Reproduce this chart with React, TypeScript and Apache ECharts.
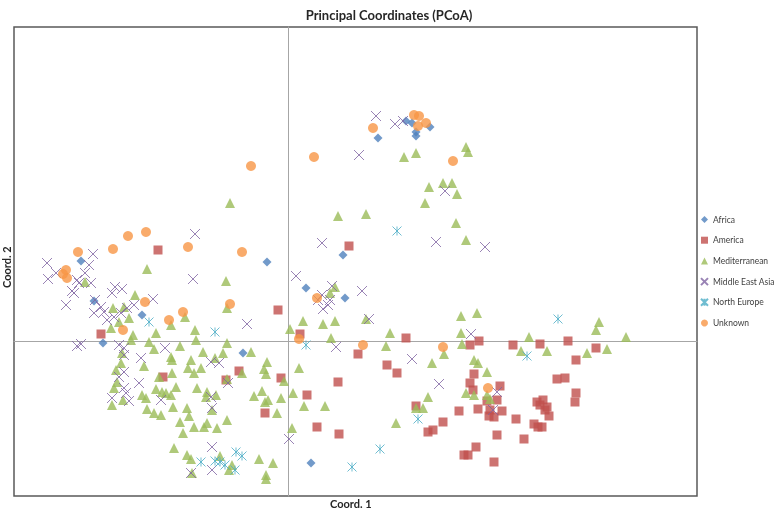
import React, { useEffect, useRef } from 'react';
import * as echarts from 'echarts';

const titleText = 'Principal Coordinates (PCoA)';
const xAxisName = 'Coord. 1';
const yAxisName = 'Coord. 2';
const seriesNames = ['Africa', 'America', 'Mediterranean', 'Middle East Asia', 'North Europe', 'Unknown'];

const africa = [
  [-207, 80], [-194, 40], [-185, -2], [-146, 26], [-21, 79], [-45, -12], [23, -122], [18, 53],
  [57, 43], [55, 86], [90, 203], [124, 218], [128, 209], [128, 205], [142, 214], [118, 220],
];

const america = [
  [-130, 91], [-187, 7], [-125, -36], [-10, 31], [12, 7], [61, 95], [-49, -30], [-62, -39],
  [-7, -37], [50, -41], [19, -54], [-23, -72], [29, -86], [51, -93], [70, -13], [99, -24],
  [109, -32], [118, 3], [182, -4], [191, 0], [225, -4], [252, -3], [280, 0], [288, -19],
  [308, -7], [269, -38], [277, -37], [288, -52], [287, -61], [186, -33], [182, -42], [185, -49],
  [212, -45], [249, -61], [255, -59], [259, -66], [252, -64], [257, -69], [209, -59], [199, -60],
  [190, -68], [202, -69], [214, -70], [206, -76], [201, -75], [261, -75], [171, -70], [228, -78],
  [246, -83], [250, -86], [254, -86], [155, -81], [140, -91], [145, -89], [209, -94], [236, -98],
  [188, -106], [176, -114], [180, -114], [206, -121], [128, -65],
];

const mediterranean = [
  [-203, 59], [-141, 72], [-153, 46], [-175, 33], [-164, 34], [-159, 23], [-169, 19], [-177, 13],
  [-155, 6], [-132, 8], [-117, 16], [-103, 24], [-93, 11], [-92, 1], [-157, 1], [-139, -1],
  [-134, -8], [-108, -5], [-85, -11], [-117, -16], [-116, -19], [-166, -12], [-167, -22], [-144, -25],
  [-97, -19], [-100, -27], [-87, -27], [-94, -32], [-116, -32], [-129, -36], [-172, -29], [-171, -41],
  [-174, -47], [-165, -59], [-176, -64], [-132, -48], [-126, -51], [-112, -46], [-117, -54], [-122, -52],
  [-146, -54], [-142, -57], [-91, -47], [-81, -51], [-82, -56], [-115, -66], [-141, -68], [-134, -72],
  [-127, -74], [-101, -67], [-99, -75], [-108, -81], [-94, -86], [-84, -86], [-81, -82], [-105, -92],
  [-114, -107], [-101, -114], [-97, -118], [-96, -132], [-61, -2], [-65, -12], [-37, -11], [-73, -17],
  [-21, -21], [-24, -28], [-22, -33], [-46, -32], [-61, -38], [-4, -40], [11, -27], [43, 3],
  [102, 8], [98, -5], [-72, -54], [-26, -50], [-34, -55], [-7, -57], [-20, -59], [-23, -61],
  [5, -52], [16, -65], [37, -65], [-11, -72], [-76, -69], [-61, -79], [-71, -87], [4, -87],
  [108, -82], [-29, -118], [-15, -122], [-22, -134], [-22, -138], [-56, -124], [-59, -129], [-68, -115],
  [-58, 138], [-62, 60], [-61, 33], [2, 12], [15, 20], [35, 17], [47, 20], [42, 48],
  [47, 54], [78, 22], [173, 25], [189, 28], [116, 184], [128, 188], [178, 194], [180, 189],
  [141, 154], [155, 158], [164, 158], [169, 147], [137, 138], [50, 125], [78, 127], [168, 118],
  [178, 101], [173, 8], [174, -3], [156, -13], [144, -22], [186, -19], [190, -22], [199, -31],
  [241, 4], [233, -10], [259, -10], [299, -12], [178, -52], [186, -54], [199, -54], [202, -58],
  [140, -56], [128, -67], [135, -67], [311, 19], [308, 11], [338, 4], [319, -8],
];

const middleEastAsia = [
  [-93, 107], [-195, 87], [-241, 78], [-240, 62], [-232, 68], [-199, 76], [-203, 68], [-211, 61],
  [-209, 58], [-197, 58], [-216, 50], [-214, 48], [-222, 36], [-95, 62], [-173, 54], [-166, 52],
  [-176, 48], [-135, 42], [-193, 41], [-187, 34], [-194, 28], [-184, 29], [-174, 24], [-167, 28],
  [-161, 33], [-154, 36], [-181, 21], [-211, -5], [-207, -3], [-169, -4], [-164, -7], [-123, -7],
  [-147, -17], [-77, -21], [-164, -14], [-164, -31], [-169, -36], [-149, -42], [-164, -47], [-162, -52],
  [-176, -57], [-159, -60], [-127, -59], [-97, -132], [-76, -106], [-76, -129], [-77, -56], [-76, -67],
  [-69, -22], [-60, -42], [1, -98], [-41, 17], [8, 65], [88, 225], [107, 217], [115, 220],
  [71, 186], [157, 150], [34, 98], [148, 99], [74, 50], [34, 46], [44, 55], [35, 32],
  [40, 36], [30, 41], [42, 41], [81, 22], [183, 7], [48, -6], [124, -18], [151, -43],
  [209, -51], [205, -69], [197, 94],
];

const northEurope = [
  [-139, 19], [-73, 9], [-87, -121], [18, -4], [92, -108], [64, -126], [-52, -111], [-46, -115],
  [-68, -121], [-63, -124], [-73, -120], [-53, -129], [109, 110], [239, -15], [130, -78], [270, 22],
];

const unknown = [
  [-210, 89], [-175, 92], [-160, 105], [-142, 109], [-100, 94], [-222, 71], [-221, 63], [-225, 67],
  [-143, 39], [-105, 29], [-119, 21], [-165, 11], [-37, 175], [-46, 89], [-58, 37], [11, 2],
  [75, -4], [26, 184], [85, 213], [126, 226], [131, 225], [138, 218], [130, 215], [165, 180],
  [29, 43], [155, -6], [200, -47],
];

const xRange = [-274, 409];
const yRange = [-155, 314];

const colors = ['#4F81BD', '#C0504D', '#9BBB59', '#8064A2', '#4BACC6', '#F79646'];
const crossPath = 'path://M0,0L10,10M10,0L0,10';
const starPath = 'path://M0,0L10,10M10,0L0,10M5,0L5,10';

const FONT = 'Lato, "Open Sans", sans-serif';

export default function App() {
  const ref = useRef<HTMLDivElement>(null);
  useEffect(() => {
    const chart = echarts.init(ref.current as HTMLDivElement, undefined, { renderer: 'svg' });
    const datasets = [africa, america, mediterranean, middleEastAsia, northEurope, unknown];
    const symbols = ['diamond', 'rect', 'triangle', crossPath, starPath, 'circle'];
    const sizes = [9, 9, 10, 10, 9, 10];
    const series = datasets.map((d, i) => {
      const stroked = i === 3 || i === 4;
      return {
        type: 'scatter',
        name: seriesNames[i],
        data: d,
        symbol: symbols[i],
        symbolSize: sizes[i],
        itemStyle: stroked
          ? { color: 'rgba(0,0,0,0)', borderColor: colors[i], borderWidth: 1 }
          : { color: colors[i] },
        emphasis: { disabled: true },
      };
    });
    chart.setOption({
      animation: false,
      textStyle: { fontFamily: FONT },
      title: {
        text: titleText,
        left: 'center',
        top: 3,
        textStyle: { fontSize: 13, fontWeight: 'bold', color: '#262626', fontFamily: FONT },
      },
      legend: {
        orient: 'vertical',
        left: 700,
        top: 214,
        padding: 0,
        itemWidth: 7,
        itemHeight: 7,
        itemGap: 9.7,
        data: seriesNames,
        textStyle: { fontSize: 8.5, lineHeight: 11, color: '#404040', fontFamily: FONT },
      },
      grid: {
        left: 14,
        right: 81,
        top: 27,
        bottom: 16,
        show: true,
        borderColor: '#595959',
        borderWidth: 1.5,
      },
      xAxis: {
        type: 'value',
        min: xRange[0],
        max: xRange[1],
        splitLine: { show: false },
        axisTick: { show: false },
        axisLabel: { show: false },
        axisLine: { onZero: true, lineStyle: { color: '#a6a6a6', width: 1 } },
      },
      yAxis: {
        type: 'value',
        min: yRange[0],
        max: yRange[1],
        splitLine: { show: false },
        axisTick: { show: false },
        axisLabel: { show: false },
        axisLine: { onZero: true, lineStyle: { color: '#a6a6a6', width: 1 } },
      },
      graphic: [
        {
          type: 'text',
          left: 330,
          top: 498,
          style: { text: xAxisName, fill: '#262626', font: `bold 11px ${FONT}` },
        },
        {
          type: 'text',
          x: 1,
          y: 288,
          rotation: Math.PI / 2,
          style: { text: yAxisName, fill: '#262626', font: `bold 11px ${FONT}` },
        },
      ],
      series,
    });
    return () => chart.dispose();
  }, []);
  return <div ref={ref} style={{ position: 'fixed', left: 0, top: 0, width: 778, height: 512 }} />;
}
